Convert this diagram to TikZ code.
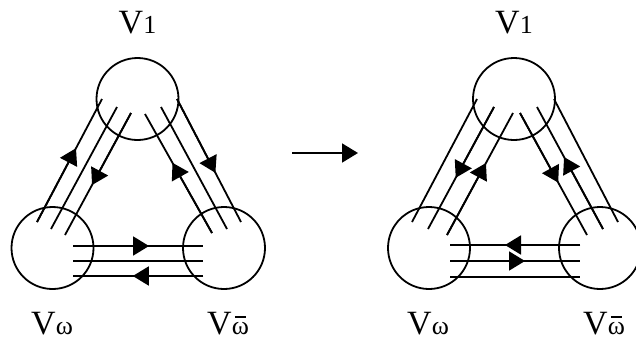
\documentclass[tikz,border=0pt]{standalone}
\usepackage{fontspec}
\setmainfont{Liberation Serif}
\usetikzlibrary{arrows.meta,calc}
\newcommand{\bigV}{\fontsize{34}{38}\selectfont V}
\newcommand{\subsz}{\fontsize{26}{28}\selectfont}
\newcommand{\omb}{\ooalign{ω\cr\hidewidth\rule[0.62em]{0.42em}{0.06em}\hidewidth\cr}}
\tikzset{
  vcirc/.style={draw, circle, minimum size=82pt, inner sep=0pt, line width=1.8pt},
  ln/.style={line width=1.8pt},
  tipd/.style={ln, -{Triangle[length=16pt,width=19pt]}},
  lbl/.style={anchor=base west, inner sep=0pt}
}
\begin{document}
\begin{tikzpicture}[x=1pt,y=-1pt]
\useasboundingbox (0,0) rectangle (636,343);
% ---------- left diagram ----------
\node[vcirc] (t1) at (137.5,99) {};
\node[vcirc] (w1) at (52.5,248) {};
\node[vcirc] (b1) at (224,248) {};
% left side lines
\coordinate (a1s) at (37,222);  \coordinate (a1e) at (102,99);
\coordinate (a2s) at (51,229);  \coordinate (a2e) at (117,107);
\coordinate (a3s) at (131,113); \coordinate (a3e) at (65,235);
\draw[ln] (a1s) -- (a1e); \draw[tipd] (a1s) -- ($(a1s)!0.60!(a1e)$);
\draw[ln] (a2s) -- (a2e);
\draw[ln] (a3s) -- (a3e); \draw[tipd] (a3s) -- ($(a3s)!0.59!(a3e)$);
% right side lines
\coordinate (c1s) at (212,233); \coordinate (c1e) at (145,114);
\coordinate (c2s) at (161,107); \coordinate (c2e) at (227,229);
\coordinate (c3s) at (177,99);  \coordinate (c3e) at (241,222);
\draw[ln] (c1s) -- (c1e); \draw[tipd] (c1s) -- ($(c1s)!0.59!(c1e)$);
\draw[ln] (c2s) -- (c2e);
\draw[ln] (c3s) -- (c3e); \draw[tipd] (c3s) -- ($(c3s)!0.60!(c3e)$);
% bottom lines
\coordinate (h1s) at (73,246);  \coordinate (h1e) at (203,246);
\coordinate (h2s) at (73,261);  \coordinate (h2e) at (203,261);
\coordinate (h3s) at (203,276); \coordinate (h3e) at (73,276);
\draw[ln] (h1s) -- (h1e); \draw[tipd] (h1s) -- ($(h1s)!0.585!(h1e)$);
\draw[ln] (h2s) -- (h2e);
\draw[ln] (h3s) -- (h3e); \draw[tipd] (h3s) -- ($(h3s)!0.54!(h3e)$);
% labels
\node[anchor=base, inner sep=0pt] (lt1) at (137.5,33) {\bigV{\subsz 1}};
\node[lbl] (lw1) at (31,334) {\bigV{\subsz ω}};
\node[lbl] (lb1) at (207,334) {\bigV{\subsz \omb}};
% ---------- middle arrow ----------
\coordinate (m1) at (292,153);
\coordinate (m2) at (358,153);
\draw[tipd] (m1) -- (m2);
% ---------- right diagram ----------
\node[vcirc] (t2) at (514,99) {};
\node[vcirc] (w2) at (429,248) {};
\node[vcirc] (b2) at (600,248) {};
\coordinate (d1s) at (412,222); \coordinate (d1e) at (477,99);
\coordinate (d2s) at (494,107); \coordinate (d2e) at (428,229);
\coordinate (d3s) at (447,235); \coordinate (d3e) at (513,113);
\draw[ln] (d1s) -- (d1e);
\draw[ln] (d2s) -- (d2e); \draw[tipd] (d2s) -- ($(d2s)!0.58!(d2e)$);
\draw[ln] (d3s) -- (d3e); \draw[tipd] (d3s) -- ($(d3s)!0.59!(d3e)$);
\coordinate (e1s) at (520,113); \coordinate (e1e) at (587,235);
\coordinate (e2s) at (603,229); \coordinate (e2e) at (537,107);
\coordinate (e3s) at (554,99);  \coordinate (e3e) at (618,222);
\draw[ln] (e1s) -- (e1e); \draw[tipd] (e1s) -- ($(e1s)!0.57!(e1e)$);
\draw[ln] (e2s) -- (e2e); \draw[tipd] (e2s) -- ($(e2s)!0.59!(e2e)$);
\draw[ln] (e3s) -- (e3e);
\coordinate (g1s) at (580,245); \coordinate (g1e) at (450,245);
\coordinate (g2s) at (450,261); \coordinate (g2e) at (580,261);
\coordinate (g3s) at (450,277); \coordinate (g3e) at (580,277);
\draw[ln] (g1s) -- (g1e); \draw[tipd] (g1s) -- ($(g1s)!0.577!(g1e)$);
\draw[ln] (g2s) -- (g2e); \draw[tipd] (g2s) -- ($(g2s)!0.577!(g2e)$);
\draw[ln] (g3s) -- (g3e);
\node[anchor=base, inner sep=0pt] (lt2) at (514,33) {\bigV{\subsz 1}};
\node[lbl] (lw2) at (407,334) {\bigV{\subsz ω}};
\node[lbl] (lb2) at (583,334) {\bigV{\subsz \omb}};
\end{tikzpicture}
\end{document}
